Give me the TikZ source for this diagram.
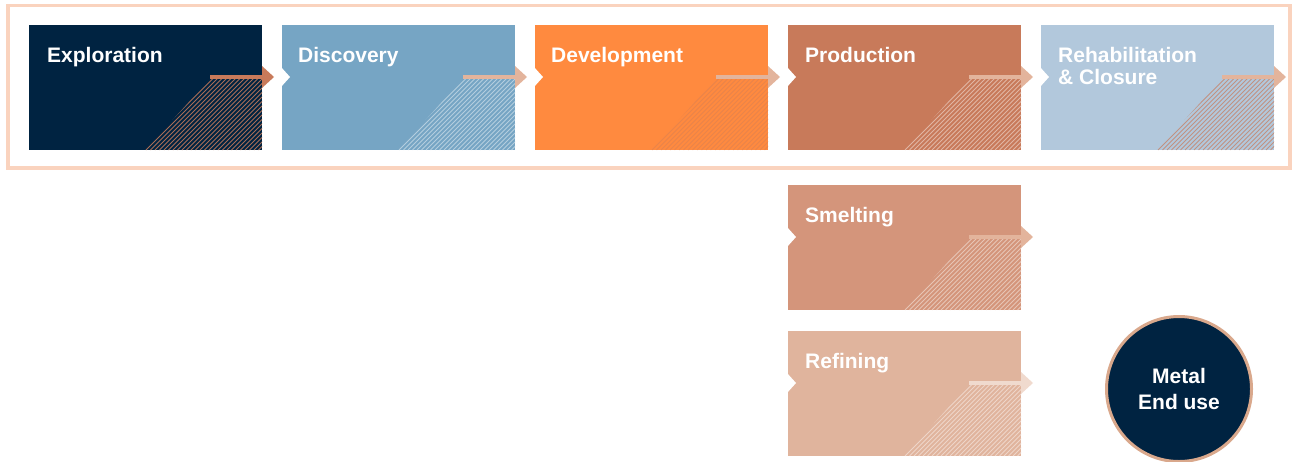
\documentclass[tikz,border=0pt]{standalone}
\usepackage{fontspec}
\setmainfont{Liberation Sans}
\usetikzlibrary{positioning}

\definecolor{navy}{HTML}{002341}
\definecolor{discblue}{HTML}{76A5C4}
\definecolor{develorange}{HTML}{FF8A3F}
\definecolor{prodbrown}{HTML}{C87A5A}
\definecolor{rehabblue}{HTML}{B2C8DC}
\definecolor{smeltpink}{HTML}{D4957B}
\definecolor{refinpeach}{HTML}{E0B49D}
\definecolor{arrowpeach}{HTML}{E3B49C}
\definecolor{arrowpale}{HTML}{F0DACE}
\definecolor{framepeach}{HTML}{FAD3BE}
\definecolor{ringpeach}{HTML}{D9A88C}

% hatch, bar and tip at the right side of a stage box
\newcommand{\stagedeco}[3]{%
  \begin{scope}
    \clip ([xshift=-52pt,yshift=-54pt]#1.north east) -- ([yshift=-54pt]#1.north east)
      -- (#1.south east) -- ([xshift=-117pt]#1.south east) -- cycle;
    \foreach \i in {0,...,29}
      \draw[#2, line width=0.9pt] ([xshift=\i*4.5pt-125pt]#1.south east) -- ++(90,-90);
  \end{scope}
  \draw[#3, line width=3.5pt] ([xshift=-52pt,yshift=-52pt]#1.north east) -- ([yshift=-52pt]#1.north east);
  \fill[#3] ([yshift=-41pt]#1.north east) -- ([xshift=12pt,yshift=-52pt]#1.north east)
    -- ([yshift=-63pt]#1.north east) -- cycle;
}
% white notch at the left side
\newcommand{\stagenotch}[1]{%
  \fill[white] ([xshift=-1pt,yshift=-42pt]#1.north west) -- ([xshift=8pt,yshift=-52pt]#1.north west)
    -- ([xshift=-1pt,yshift=-62pt]#1.north west) -- cycle;
}

\begin{document}
\begin{tikzpicture}[x=1pt, y=-1pt,
    stagebox/.style={anchor=north west, minimum width=233pt, minimum height=125pt,
      inner sep=0pt, outer sep=0pt},
    stagelabel/.style={anchor=base west, inner sep=0pt, text=white, align=left,
      font=\bfseries\fontsize{21}{22}\selectfont}]
    \useasboundingbox (0,0) rectangle (1293,461);

    % frame round the main row
    \draw[framepeach, line width=3.5pt] (8,5.5) rectangle (1290,168);

    % main row
    \node[stagebox, fill=navy] (explo) at (29,25) {};
    \node[stagebox, fill=discblue, right=20pt of explo] (disc) {};
    \node[stagebox, fill=develorange, right=20pt of disc] (devel) {};
    \node[stagebox, fill=prodbrown, right=20pt of devel] (prod) {};
    \node[stagebox, fill=rehabblue, right=20pt of prod] (rehab) {};
    % processing
    \node[stagebox, fill=smeltpink, below=35pt of prod] (smelt) {};
    \node[stagebox, fill=refinpeach, below=21pt of smelt] (refin) {};

    \stagedeco{explo}{prodbrown!85!navy}{prodbrown}
    \stagedeco{disc}{discblue!55!white}{arrowpeach}
    \stagedeco{devel}{develorange!60!prodbrown}{arrowpeach}
    \stagedeco{prod}{prodbrown!55!white}{arrowpeach}
    \stagedeco{rehab}{prodbrown!70!rehabblue}{arrowpeach}
    \stagedeco{smelt}{smeltpink!55!white}{arrowpeach}
    \stagedeco{refin}{refinpeach!55!white}{arrowpale}

    \stagenotch{disc}
    \stagenotch{devel}
    \stagenotch{prod}
    \stagenotch{rehab}
    \stagenotch{smelt}
    \stagenotch{refin}

    \node[stagelabel] (explolbl) at ([xshift=18pt,yshift=-37pt]explo.north west) {Exploration};
    \node[stagelabel] (disclbl) at ([xshift=16pt,yshift=-37pt]disc.north west) {Discovery};
    \node[stagelabel] (devellbl) at ([xshift=16pt,yshift=-37pt]devel.north west) {Development};
    \node[stagelabel] (prodlbl) at ([xshift=17pt,yshift=-37pt]prod.north west) {Production};
    \node[stagelabel] (rehablbl) at ([xshift=17pt,yshift=-59pt]rehab.north west) {Rehabilitation\\\& Closure};
    \node[stagelabel] (smeltlbl) at ([xshift=17pt,yshift=-37pt]smelt.north west) {Smelting};
    \node[stagelabel] (refinlbl) at ([xshift=17pt,yshift=-37pt]refin.north west) {Refining};

    % end use
    \node[circle, fill=navy, draw=ringpeach, line width=3pt, minimum size=145pt,
      text=white, align=center, font=\bfseries\fontsize{21}{26}\selectfont]
      (enduse) at (1179,389) {Metal\\End use};
\end{tikzpicture}
\end{document}
